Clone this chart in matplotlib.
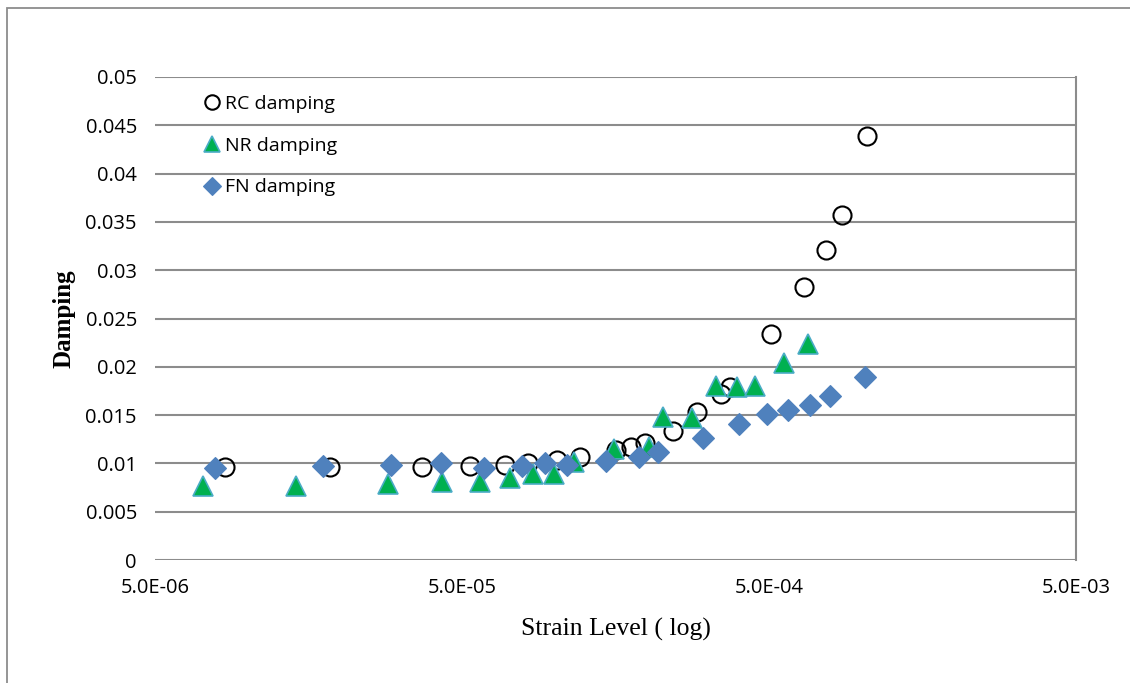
import matplotlib
matplotlib.use("Agg")
import matplotlib.pyplot as plt
from matplotlib.patches import Rectangle
from matplotlib.ticker import FixedLocator, NullLocator

# Damping ratio versus shear strain level
rc_strain = [8.45e-6, 1.86e-5, 3.70e-5, 5.30e-5, 6.88e-5, 8.18e-5, 1.017e-4, 1.21e-4,
             1.59e-4, 1.78e-4, 1.97e-4, 2.44e-4, 2.92e-4, 3.48e-4, 3.72e-4, 5.09e-4,
             6.52e-4, 7.69e-4, 8.67e-4, 1.04e-3]
rc_damping = [0.00963, 0.00963, 0.00963, 0.00973, 0.00983, 0.01004, 0.01035, 0.01066,
              0.01139, 0.01170, 0.01211, 0.01335, 0.01532, 0.01718, 0.01791, 0.02340,
              0.02826, 0.03209, 0.03571, 0.04389]

nr_strain = [7.17e-6, 1.44e-5, 2.87e-5, 4.30e-5, 5.71e-5, 7.15e-5, 8.49e-5, 9.94e-5,
             1.155e-4, 1.56e-4, 2.03e-4, 2.25e-4, 2.80e-4, 3.37e-4, 3.92e-4, 4.51e-4,
             5.61e-4, 6.72e-4]
nr_damping = [0.00766, 0.00766, 0.00787, 0.00807, 0.00807, 0.00849, 0.00890, 0.00890,
              0.01014, 0.01149, 0.01170, 0.01480, 0.01470, 0.01801, 0.01791, 0.01801,
              0.02039, 0.02236]

fn_strain = [7.84e-6, 1.76e-5, 2.93e-5, 4.26e-5, 5.88e-5, 7.82e-5, 9.29e-5, 1.096e-4,
             1.47e-4, 1.89e-4, 2.17e-4, 3.04e-4, 3.98e-4, 4.94e-4, 5.78e-4, 6.82e-4,
             7.92e-4, 1.03e-3]
fn_damping = [0.00952, 0.00973, 0.00983, 0.01004, 0.00952, 0.00973, 0.01004, 0.00983,
              0.01025, 0.01066, 0.01118, 0.01263, 0.01408, 0.01511, 0.01553, 0.01605,
              0.01698, 0.01894]

x_ticks = [5e-6, 5e-5, 5e-4, 5e-3]
x_tick_labels = ["5.0E-06", "5.0E-05", "5.0E-04", "5.0E-03"]
y_ticks = [0, 0.005, 0.01, 0.015, 0.02, 0.025, 0.03, 0.035, 0.04, 0.045, 0.05]
y_tick_labels = ["0", "0.005", "0.01", "0.015", "0.02", "0.025", "0.03",
                 "0.035", "0.04", "0.045", "0.05"]

tick_font = "Open Sans"
grid_col = "#8c8c8c"

fig = plt.figure(figsize=(11.3, 6.83), dpi=100)
fig.patch.set_facecolor("white")

# outer chart border
fig.patches.append(Rectangle((7 / 1130, -0.05), 1.2, 1 - 8 / 683 + 0.05,
                             transform=fig.transFigure, fill=False,
                             edgecolor="#8c8c8c", linewidth=1.3))

ax = fig.add_axes([155 / 1130, 1 - 560 / 683, (1076 - 155) / 1130, (560 - 77) / 683])
ax.set_xscale("log")
ax.set_xlim(5e-6, 5e-3)
ax.set_ylim(0, 0.05)

ax.xaxis.set_major_locator(FixedLocator(x_ticks))
ax.xaxis.set_minor_locator(NullLocator())
ax.set_xticks(x_ticks)
ax.set_xticklabels(x_tick_labels)
ax.set_yticks(y_ticks)
ax.set_yticklabels(y_tick_labels)
ax.tick_params(axis="both", length=0, labelsize=14.5, colors="black")
ax.tick_params(axis="y", pad=13)
ax.tick_params(axis="x", pad=13)
for lab in ax.get_xticklabels() + ax.get_yticklabels():
    lab.set_fontfamily(tick_font)

ax.yaxis.grid(True, color=grid_col, linewidth=1.5)
ax.set_axisbelow(True)
for side in ("left", "top", "bottom"):
    ax.spines[side].set_visible(False)
ax.spines["right"].set_color(grid_col)
ax.spines["right"].set_linewidth(1.5)

ax.plot(rc_strain, rc_damping, linestyle="none", marker="o", markersize=13,
        markerfacecolor="none", markeredgecolor="black", markeredgewidth=1.5,
        label="RC damping", zorder=3)
ax.plot(nr_strain, nr_damping, linestyle="none", marker="^", markersize=14,
        markerfacecolor="#00b050", markeredgecolor="#4bacc6", markeredgewidth=1.2,
        label="NR damping", zorder=4)
ax.plot(fn_strain, fn_damping, linestyle="none", marker="D", markersize=11,
        markerfacecolor="#4f81bd", markeredgecolor="#4f81bd", markeredgewidth=0.8,
        label="FN damping", zorder=5)

ax.set_xlabel("Strain Level ( log)", fontfamily="Liberation Serif", fontsize=18.5,
              labelpad=14)
ax.set_ylabel("Damping", fontfamily="Liberation Serif", fontsize=18,
              fontweight="bold", labelpad=7)

leg = ax.legend(loc="upper left", bbox_to_anchor=(204 / 1130, 1 - 95 / 683),
                bbox_transform=fig.transFigure, frameon=False,
                prop={"family": tick_font, "size": 14}, markerscale=0.8,
                handlelength=0.8, handletextpad=0.28, labelspacing=1.22,
                borderaxespad=0, borderpad=0)

fig.savefig("out.png", dpi=100, facecolor="white")
